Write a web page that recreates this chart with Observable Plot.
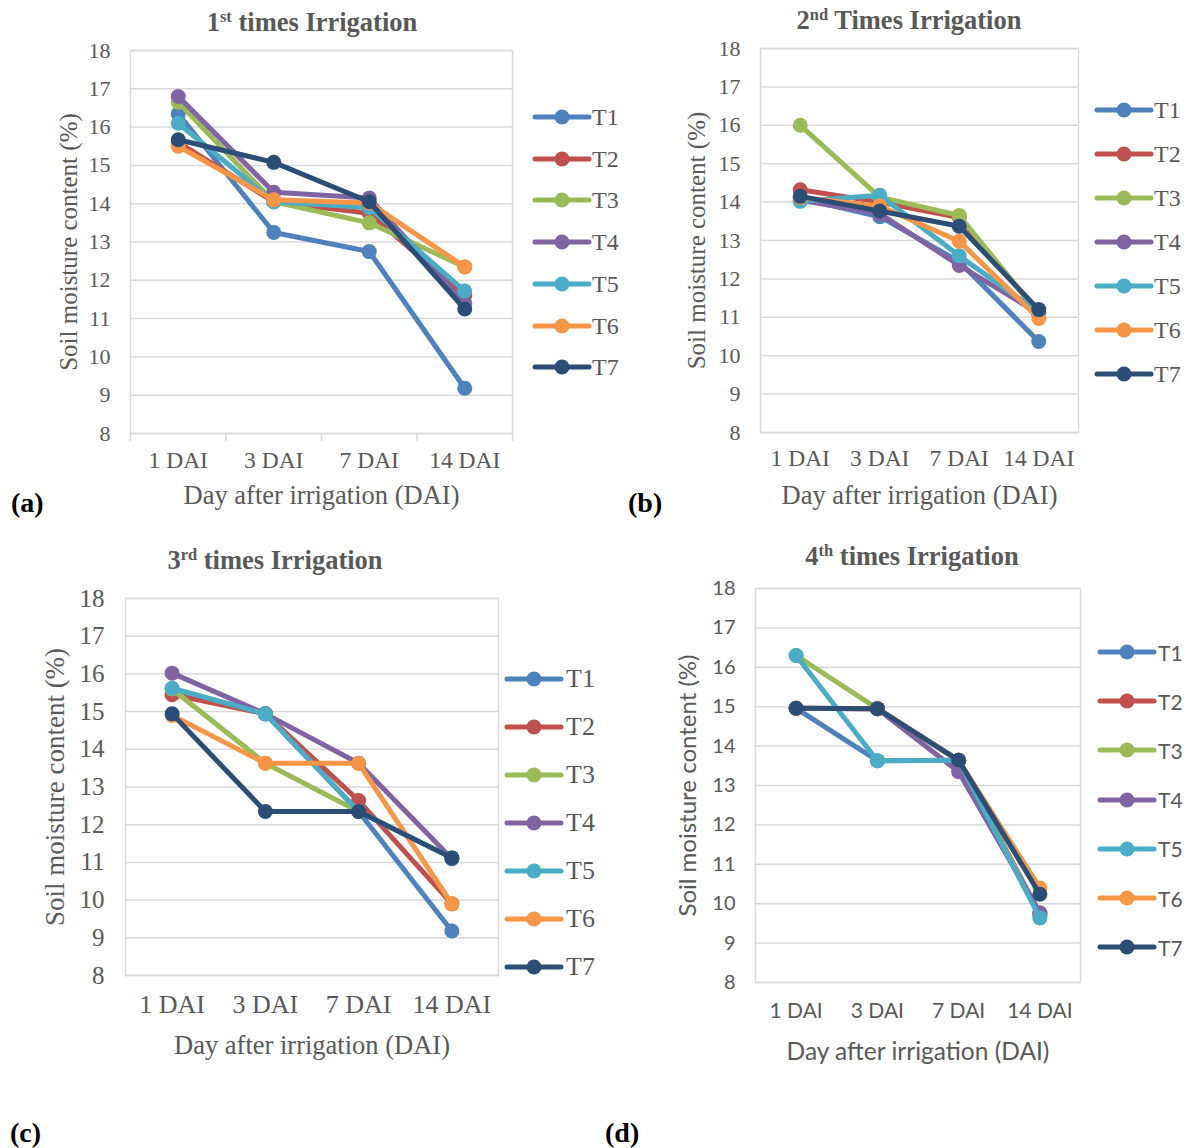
<!DOCTYPE html>
<html><head><meta charset="utf-8">
<script src="https://cdn.jsdelivr.net/npm/d3@7"></script>
<script src="https://cdn.jsdelivr.net/npm/@observablehq/plot@0.6"></script>
<style>
body{margin:0;background:#fff}
#root{position:relative;width:1188px;height:1148px;overflow:hidden;background:#fff}
.title{position:absolute;font-family:"Liberation Serif",serif;font-weight:bold;color:#595959;transform:translateX(-50%);white-space:nowrap;line-height:1}
.title sup{font-size:0.62em;vertical-align:0.55em;line-height:0}
.tag{position:absolute;font-family:"Liberation Serif",serif;font-weight:bold;font-size:28px;color:#000;line-height:1}
.leg{position:absolute;display:flex;align-items:center;color:#595959;line-height:1;white-space:nowrap}
</style>
</head><body><div id="root"></div>
<script>
// ---- data ----
const days = ["1 DAI", "3 DAI", "7 DAI", "14 DAI"];
const treatments = ["T1", "T2", "T3", "T4", "T5", "T6", "T7"];
const colors = ["#4F81BD", "#C0504D", "#9BBB59", "#8064A2", "#4BACC6", "#F79646", "#2C4D75"];
const yTicks = [8, 9, 10, 11, 12, 13, 14, 15, 16, 17, 18];
const yTitle = "Soil moisture content (%)";
const xTitle = "Day after irrigation (DAI)";

// rows = T1..T7, columns = 1, 3, 7, 14 DAI
const irrigation1 = [
  [16.35, 13.25, 12.75, 9.18],
  [15.60, 14.05, 13.75, 11.60],
  [16.65, 14.05, 13.50, 12.35],
  [16.80, 14.30, 14.15, 11.40],
  [16.10, 14.05, 13.90, 11.72],
  [15.50, 14.10, 14.02, 12.35],
  [15.67, 15.08, 14.05, 11.25]
];
const irrigation2 = [
  [14.10, 13.62, 12.45, 10.37],
  [14.32, 14.00, 13.60, 11.10],
  [16.00, 14.13, 13.65, 11.10],
  [14.05, 13.70, 12.35, 11.10],
  [14.02, 14.18, 12.60, 11.12],
  [14.12, 13.90, 12.98, 10.97],
  [14.15, 13.77, 13.37, 11.20]
];
const irrigation3 = [
  [15.60, 14.94, 12.35, 9.18],
  [15.45, 14.94, 12.64, 9.90],
  [15.60, 13.63, 12.35, 11.12],
  [16.02, 14.94, 13.63, 11.10],
  [15.62, 14.94, 12.35, 11.12],
  [14.90, 13.63, 13.63, 9.90],
  [14.94, 12.35, 12.35, 11.12]
];
const irrigation4 = [
  [14.96, 13.63, 13.64, 9.70],
  [14.96, 14.95, 13.64, 9.75],
  [16.30, 14.95, 13.64, 9.70],
  [14.96, 14.95, 13.35, 9.77],
  [16.30, 13.63, 13.64, 9.64],
  [14.96, 14.95, 13.64, 10.40],
  [14.96, 14.95, 13.64, 10.24]
];

const root = document.getElementById("root");
const serif = "'Liberation Serif', 'DejaVu Serif', serif";
const sans = "Lato, 'Open Sans', sans-serif";

function panel(p) {
  const data = [];
  treatments.forEach((t, i) => days.forEach((d, j) => data.push({t, day: d, xi: j, v: p.values[i][j]})));
  const marks = [
    Plot.gridY(yTicks, {stroke: "#D9D9D9", strokeOpacity: 1, strokeWidth: 1.5}),
    Plot.frame({stroke: "#D9D9D9", strokeWidth: 1.5}),
    Plot.axisY(yTicks, {tickSize: 0, tickPadding: p.yPad, tickFormat: d => String(d), fontSize: p.yFs, label: null}),
    Plot.axisX([0, 1, 2, 3], {tickSize: 0, tickPadding: p.xPad, tickFormat: i => days[i], fontSize: p.xFs, label: null}),
    Plot.text([yTitle], {frameAnchor: "left", textAnchor: "middle", lineAnchor: "middle", rotate: -90, dx: -p.ytDx, fontSize: p.ytFs, fill: "#595959"}),
    Plot.text([xTitle], {frameAnchor: "bottom", textAnchor: "middle", lineAnchor: "middle", dy: p.xtDy, fontSize: p.xtFs, fill: "#595959"})
  ];
  if (p.boundaryTicks) {
    marks.push(Plot.axisX([-0.5, 0.5, 1.5, 2.5, 3.5], {tickSize: 8, tickFormat: () => "", label: null, stroke: "#D9D9D9", strokeWidth: 1.5}));
  }
  treatments.forEach((t, i) => {
    const s = data.filter(d => d.t === t);
    marks.push(Plot.line(s, {x: "xi", y: "v", stroke: colors[i], strokeWidth: 5, strokeLinecap: "round", strokeLinejoin: "round"}));
    marks.push(Plot.dot(s, {x: "xi", y: "v", fill: colors[i], r: 7.5}));
  });
  const chart = Plot.plot({
    width: p.w, height: p.h,
    marginLeft: p.ml, marginRight: p.mr, marginTop: p.mt, marginBottom: p.mb,
    style: {fontFamily: p.font, fontSize: p.xFs + "px", color: "#595959", background: "transparent", overflow: "visible"},
    x: {domain: [-0.5, 3.5], axis: null},
    y: {domain: [8, 18], axis: null},
    marks
  });
  chart.style.position = "absolute";
  chart.style.left = p.left + "px";
  chart.style.top = p.top + "px";
  root.appendChild(chart);

  const ttl = document.createElement("div");
  ttl.className = "title";
  ttl.style.left = p.titleX + "px";
  ttl.style.top = (p.titleY - p.headFs / 2) + "px";
  ttl.style.fontSize = p.headFs + "px";
  ttl.innerHTML = p.title;
  root.appendChild(ttl);

  treatments.forEach((t, i) => {
    const item = document.createElement("div");
    item.className = "leg";
    item.style.left = p.legX + "px";
    item.style.top = (p.legY + i * p.legStep - 12) + "px";
    item.style.height = "24px";
    item.style.fontFamily = p.font;
    item.style.fontSize = p.legFs + "px";
    item.innerHTML = `<svg width="${p.legW}" height="24" style="display:block"><line x1="3" x2="${p.legW - 3}" y1="12" y2="12" stroke="${colors[i]}" stroke-width="5" stroke-linecap="round"/><circle cx="${p.legW / 2}" cy="12" r="7.5" fill="${colors[i]}"/></svg><span style="margin-left:${p.legGap}px">${t}</span>`;
    root.appendChild(item);
  });

  const tag = document.createElement("div");
  tag.className = "tag";
  tag.style.left = p.tagX + "px";
  tag.style.top = (p.tagY - 14) + "px";
  tag.textContent = p.tag;
  root.appendChild(tag);
}

panel({
  values: irrigation1, left: 0, top: 0, w: 525, h: 520,
  ml: 130, mr: 13, mt: 50, mb: 87,
  font: serif, yFs: 22, xFs: 23.5, ytFs: 25, xtFs: 26.5, yPad: 20, xPad: 18, ytDx: 62, xtDy: 62,
  boundaryTicks: true,
  title: "1<sup>st</sup> times Irrigation", titleX: 312, titleY: 22, headFs: 26.5,
  legX: 532, legY: 117, legStep: 41.7, legW: 60, legGap: 0, legFs: 24,
  tag: "(a)", tagX: 11, tagY: 503
});
panel({
  values: irrigation2, left: 600, top: 0, w: 490, h: 520,
  ml: 160, mr: 12, mt: 48, mb: 88,
  font: serif, yFs: 22, xFs: 23.5, ytFs: 25, xtFs: 26.5, yPad: 20, xPad: 17, ytDx: 64, xtDy: 63,
  title: "2<sup>nd</sup> Times Irrigation", titleX: 909, titleY: 20, headFs: 26.5,
  legX: 1094, legY: 110, legStep: 44, legW: 60, legGap: 0, legFs: 24,
  tag: "(b)", tagX: 628, tagY: 503
});
panel({
  values: irrigation3, left: 0, top: 540, w: 505, h: 530,
  ml: 125, mr: 7, mt: 58, mb: 95,
  font: serif, yFs: 25, xFs: 26, ytFs: 27, xtFs: 26.5, yPad: 21, xPad: 19, ytDx: 70, xtDy: 70,
  title: "3<sup>rd</sup> times Irrigation", titleX: 275, titleY: 560, headFs: 26.5,
  legX: 504, legY: 679, legStep: 48, legW: 60, legGap: 2, legFs: 26,
  tag: "(c)", tagX: 10, tagY: 1133
});
panel({
  values: irrigation4, left: 600, top: 540, w: 490, h: 540,
  ml: 155, mr: 10, mt: 48, mb: 98,
  font: sans, yFs: 20, xFs: 21, ytFs: 24, xtFs: 24.5, yPad: 20, xPad: 21, ytDx: 67, xtDy: 70,
  title: "4<sup>th</sup> times Irrigation", titleX: 912, titleY: 556, headFs: 26.5,
  legX: 1097, legY: 652, legStep: 49.2, legW: 60, legGap: 1, legFs: 21,
  tag: "(d)", tagX: 605, tagY: 1133
});
</script>
</body></html>
